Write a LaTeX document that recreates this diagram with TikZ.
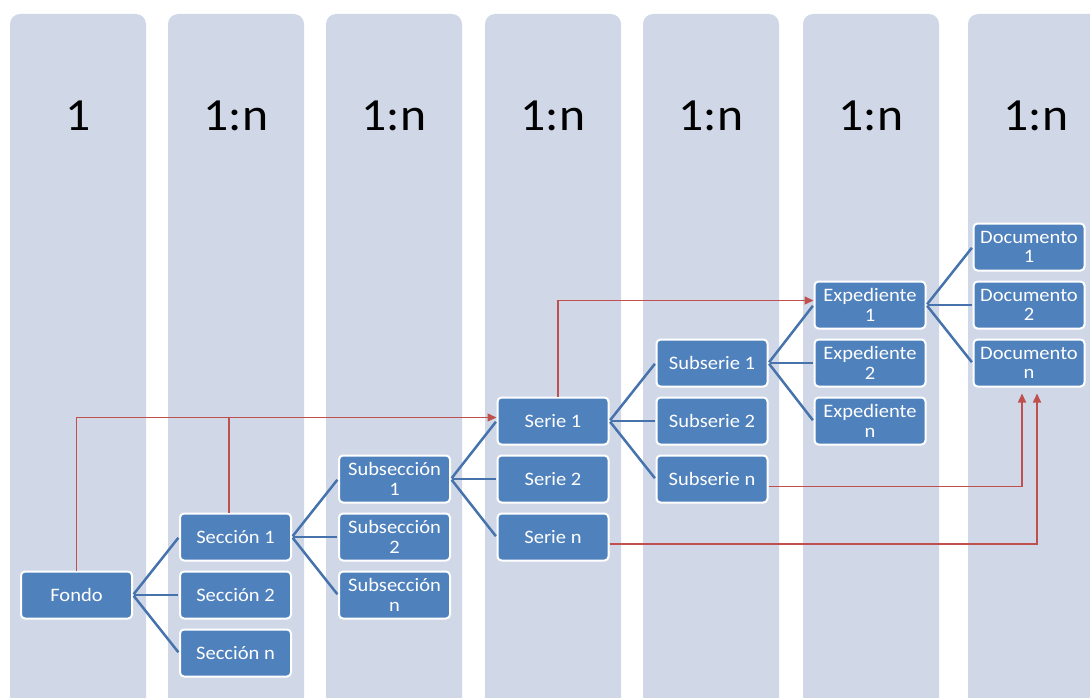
\documentclass[tikz,border=0pt]{standalone}
\usepackage{fontspec}
\setmainfont[FakeStretch=1.08]{Carlito}
\usetikzlibrary{arrows.meta}
\definecolor{colbg}{RGB}{208,216,232}
\definecolor{boxblue}{RGB}{79,129,189}
\definecolor{linkblue}{RGB}{70,115,172}
\definecolor{redl}{RGB}{192,80,77}
\tikzset{
 unitbox/.style={draw=white, line width=2pt, fill=boxblue, rounded corners=4pt,
   minimum width=111pt, minimum height=47pt, text=white, align=center,
   font=\fontsize{19}{19.5}\selectfont, inner sep=0pt},
 header/.style={font=\fontsize{46}{50}\selectfont, anchor=base, inner sep=0pt},
 fan/.style={draw=linkblue, line width=2.5pt, shorten <=1pt, shorten >=1pt},
 redlink/.style={draw=redl, line width=1.5pt},
 redarrow/.style={redlink, -{Triangle[length=9pt,width=8pt]}},
}
\begin{document}
\begin{tikzpicture}[x=1pt,y=-1pt]
\useasboundingbox (0,0) rectangle (1090,698);
\begin{scope}
\clip (0,0) rectangle (1090,698);
\foreach \l in {10,168,326,485,643,803,968}
  \fill[colbg, rounded corners=10pt] (\l,14) rectangle ++(136,720);
\end{scope}
% headers
\node[header] (h1) at (78,131) {1};
\node[header] (h2) at (236,131) {1:n};
\node[header] (h3) at (394,131) {1:n};
\node[header] (h4) at (553,131) {1:n};
\node[header] (h5) at (711,131) {1:n};
\node[header] (h6) at (871,131) {1:n};
\node[header] (h7) at (1036,131) {1:n};
% boxes
\node[unitbox] (fondo) at (76.5,595) {Fondo};
\node[unitbox] (sec1) at (235.5,537) {Sección 1};
\node[unitbox] (sec2) at (235.5,595) {Sección 2};
\node[unitbox] (secn) at (235.5,653) {Sección n};
\node[unitbox] (sub1) at (394.5,479) {Subsección\\1};
\node[unitbox] (sub2) at (394.5,537) {Subsección\\2};
\node[unitbox] (subn) at (394.5,595) {Subsección\\n};
\node[unitbox] (serie1) at (553,421) {Serie 1};
\node[unitbox] (serie2) at (553,479) {Serie 2};
\node[unitbox] (serien) at (553,537) {Serie n};
\node[unitbox] (subs1) at (712,363) {Subserie 1};
\node[unitbox] (subs2) at (712,421) {Subserie 2};
\node[unitbox] (subsn) at (712,479) {Subserie n};
\node[unitbox] (exp1) at (870,305) {Expediente\\1};
\node[unitbox] (exp2) at (870,363) {Expediente\\2};
\node[unitbox] (expn) at (870,421) {Expediente\\n};
\node[unitbox] (doc1) at (1029,247) {Documento\\1};
\node[unitbox] (doc2) at (1029,305) {Documento\\2};
\node[unitbox] (docn) at (1029,363) {Documento\\n};
% fans
\foreach \p/\c in {fondo/sec1,fondo/sec2,fondo/secn,
                   sec1/sub1,sec1/sub2,sec1/subn,
                   sub1/serie1,sub1/serie2,sub1/serien,
                   serie1/subs1,serie1/subs2,serie1/subsn,
                   subs1/exp1,subs1/exp2,subs1/expn,
                   exp1/doc1,exp1/doc2,exp1/docn}
  \draw[fan] (\p.east) -- (\c.west);
% red links
\draw[redarrow] (fondo.north) |- coordinate[pos=0.5] (bendA) ([yshift=3.5pt]serie1.west);
\coordinate (s1t) at ([xshift=-6.5pt]sec1.north);
\draw[redlink] (s1t) -- (s1t |- bendA);
\draw[redarrow] ([xshift=5pt]serie1.north) |- ([yshift=4.5pt]exp1.west);
\draw[redarrow] ([yshift=-7.5pt]subsn.east) -| ([xshift=-7pt,yshift=-6pt]docn.south);
\draw[redarrow] ([yshift=-7pt]serien.east) -| ([xshift=8pt,yshift=-6pt]docn.south);
\end{tikzpicture}
\end{document}
